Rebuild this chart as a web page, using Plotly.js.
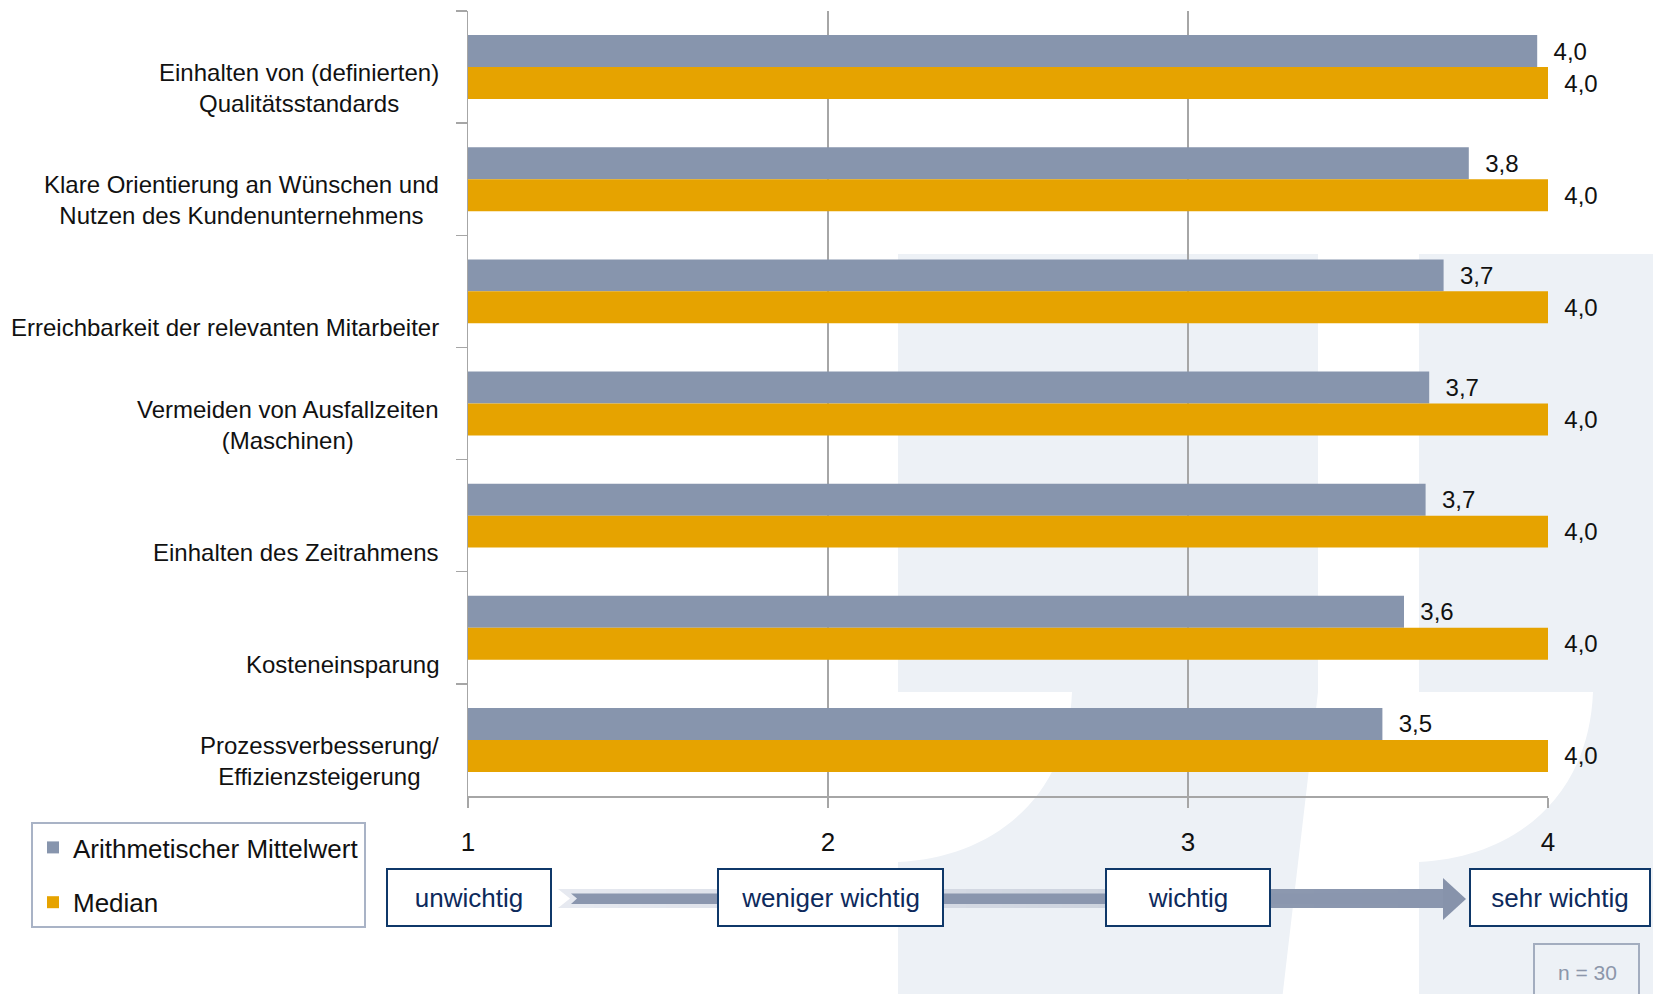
<!DOCTYPE html>
<html>
<head>
<meta charset="utf-8">
<script src="https://cdn.plot.ly/plotly-3.0.1.min.js"></script>
<style>
  html, body { margin: 0; padding: 0; background: #ffffff; }
  #chart { width: 1653px; height: 994px; }
</style>
</head>
<body>
<div id="chart"></div>
<script>
// ---- data ----
const categories = [
  'Einhalten von (definierten) Qualitätsstandards',
  'Klare Orientierung an Wünschen und Nutzen des Kundenunternehmens',
  'Erreichbarkeit der relevanten Mitarbeiter',
  'Vermeiden von Ausfallzeiten (Maschinen)',
  'Einhalten des Zeitrahmens',
  'Kosteneinsparung',
  'Prozessverbesserung/ Effizienzsteigerung'
];
const categoryLabels = [
  'Einhalten von (definierten)<br>Qualitätsstandards',
  'Klare Orientierung an Wünschen und<br>Nutzen des Kundenunternehmens',
  '\u00a0<br>Erreichbarkeit der relevanten Mitarbeiter',
  'Vermeiden von Ausfallzeiten<br>(Maschinen)',
  '\u00a0<br>Einhalten des Zeitrahmens',
  '\u00a0<br>Kosteneinsparung',
  'Prozessverbesserung/<br>Effizienzsteigerung'
];
const meanValues   = [3.97, 3.78, 3.71, 3.67, 3.66, 3.60, 3.54];
const medianValues = [4.0, 4.0, 4.0, 4.0, 4.0, 4.0, 4.0];
const seriesNames  = ['Arithmetischer Mittelwert', 'Median'];
const xTickValues  = [1, 2, 3, 4];
const xTickLabels  = ['1', '2', '3', '4'];
const scaleLabels  = ['unwichtig', 'weniger wichtig', 'wichtig', 'sehr wichtig'];
const sampleNote   = 'n = 30';

// ---- style ----
const FONT = "'Liberation Sans', Arial, sans-serif";
const GRAY = '#8795AD';
const ORANGE = '#E6A300';
const AXIS = '#A6A6A6';
const NAVY = '#0F3869';
const WM = '#EDF1F6';
const AXIS_MIN = 1;

const W = 1653, H = 994, L = 468, R = 1548, T = 11, B = 796;
const px = x => (x - L) / (R - L);
const py = y => (B - y) / (B - T);
const path = pts => pts.map((p, i) => (i ? 'L' : 'M') + px(p[0]).toFixed(5) + ',' + py(p[1]).toFixed(5)).join(' ') + ' Z';
const fmt = v => '\u00a0\u00a0' + v.toFixed(1).replace('.', ',');

function hex(c) { return [1,3,5].map(i => parseInt(c.substr(i,2),16)); }
function mix(a, b, t) {
  const A = hex(a), Bc = hex(b);
  return 'rgb(' + A.map((v,i) => Math.round(v + (Bc[i]-v)*t)).join(',') + ')';
}

const shapes = [];
// background watermark (two light hook shapes)
function hookPath(x0, x1, xb, cx) {
  return 'M' + px(x0) + ',' + py(254) +
    ' L' + px(x1) + ',' + py(254) +
    ' L' + px(x1) + ',' + py(692) +
    ' L' + px(xb) + ',' + py(1000) +
    ' L' + px(x0) + ',' + py(1000) +
    ' L' + px(x0) + ',' + py(862) +
    ' C' + px(x0 + 92) + ',' + py(858) + ' ' + px(cx - 4) + ',' + py(800) + ' ' + px(cx) + ',' + py(692) +
    ' L' + px(x0) + ',' + py(692) + ' Z';
}
shapes.push({type:'path', xref:'paper', yref:'paper', layer:'below', path: hookPath(898, 1318, 1282, 1072), fillcolor: WM, line:{width:0}});
shapes.push({type:'path', xref:'paper', yref:'paper', layer:'below', path: hookPath(1419, 1660, 1660, 1593), fillcolor: WM, line:{width:0}});

// scale arrow
const ax0 = 558, ax1 = 1444, yTop = 889, yBot = 908, yMid = 898.5;
const stops = [[558, '#E6E9F0'], [1105, '#CDD3DE'], [1271, '#8C98AF'], [1444, '#8A96AE']];
function colorAt(x) {
  for (let i = 0; i < stops.length - 1; i++) {
    if (x <= stops[i+1][0]) {
      const t = (x - stops[i][0]) / (stops[i+1][0] - stops[i][0]);
      return mix(stops[i][1], stops[i+1][1], Math.max(0, Math.min(1, t)));
    }
  }
  return stops[stops.length-1][1];
}
const step = 12;
for (let x = ax0; x < ax1; x += step) {
  const xe = Math.min(ax1, x + step + 0.8);
  let pts;
  if (x === ax0) pts = [[x, yTop], [xe, yTop], [xe, yBot], [x, yBot], [x + 12, yMid]];
  else pts = [[x, yTop], [xe, yTop], [xe, yBot], [x, yBot]];
  shapes.push({type:'path', xref:'paper', yref:'paper', layer:'above', path: path(pts), fillcolor: colorAt(x + step/2), line:{width:0}});
}
shapes.push({type:'path', xref:'paper', yref:'paper', layer:'above',
  path: path([[571, 893.5], [ax1, 893.5], [ax1, 904], [571, 904], [577, yMid]]), fillcolor: '#8A96AE', line:{width:0}});
shapes.push({type:'path', xref:'paper', yref:'paper', layer:'above',
  path: path([[1443, 878], [1466, 899], [1443, 920]]), fillcolor: '#8793AB', line:{width:0}});
// n = 30 box
shapes.push({type:'rect', xref:'paper', yref:'paper', layer:'above',
  x0: px(1534), x1: px(1639), y0: py(944), y1: py(1010), line:{color:'#A3ADBF', width:2}, fillcolor:'rgba(0,0,0,0)'});

const annotations = [];
categoryLabels.forEach((lab, i) => {
  annotations.push({xref:'paper', x:0, xanchor:'right', xshift:-27, yref:'y', y:i, yanchor:'middle', yshift:-21,
    text: lab, align:'center', showarrow:false, font:{family:FONT, size:24, color:'#111111'}});
});
const boxWidths = [166, 227, 166, 182];
const boxShift = [1, 2, 0, 12];
scaleLabels.forEach((lab, i) => {
  annotations.push({xref:'x', x: xTickValues[i], xanchor:'center', xshift: boxShift[i], yref:'paper', y: py(897.5), yanchor:'middle',
    text: lab, showarrow:false, width: boxWidths[i] - 4, height: 55, borderpad: 0, borderwidth: 2,
    bordercolor: NAVY, bgcolor:'#ffffff', font:{family:FONT, size:26, color:'#0D2A5C'}});
});
annotations.push({xref:'paper', x: px(1587), xanchor:'center', yref:'paper', y: py(972), yanchor:'middle',
  text: sampleNote, showarrow:false, font:{family:FONT, size:21, color:'#8C96AA'}});

const traces = [
  {type:'bar', orientation:'h', name: seriesNames[0], y: categories, x: meanValues.map(v => v - AXIS_MIN), base: AXIS_MIN,
   marker:{color: GRAY}, text: meanValues.map(fmt), textposition:'outside', cliponaxis:false, constraintext:'none',
   textfont:{family:FONT, size:24, color:'#111111'}, legendgroup:'a', hoverinfo:'skip'},
  {type:'bar', orientation:'h', name: seriesNames[1], y: categories, x: medianValues.map(v => v - AXIS_MIN), base: AXIS_MIN,
   marker:{color: ORANGE}, text: medianValues.map(fmt), textposition:'outside', cliponaxis:false, constraintext:'none',
   textfont:{family:FONT, size:24, color:'#111111'}, legendgroup:'b', hoverinfo:'skip'}
];

const layout = {
  width: W, height: H,
  margin: {l: L, r: W - R, t: T, b: H - B, pad: 0},
  paper_bgcolor: '#ffffff', plot_bgcolor: 'rgba(0,0,0,0)',
  font: {family: FONT, color: '#111111'},
  barmode: 'group', bargap: 0.43, bargroupgap: 0,
  showlegend: true,
  legend: {x: px(31), y: py(822), xanchor:'left', yanchor:'top', bgcolor:'#ffffff', bordercolor:'#A9B3C6', borderwidth:2,
    font:{family:FONT, size:26, color:'#111111'}, traceorder:'grouped', tracegroupgap: 18, itemwidth: 30},
  xaxis: {range: [1, 4], tickvals: xTickValues, ticktext: xTickLabels, ticks:'outside', ticklen:10, tickcolor: AXIS, tickwidth:1.5,
    showgrid:true, gridcolor: AXIS, gridwidth:1.2, showline:true, linecolor: AXIS, linewidth:1.5, zeroline:false,
    tickfont:{family:FONT, size:26, color:'#111111'}, ticklabelstandoff: 12, fixedrange:true},
  yaxis: {type:'category', categoryorder:'array', categoryarray: categories, range:[6.5, -0.5], tickson:'boundaries',
    ticks:'outside', ticklen:11, tickcolor: AXIS, tickwidth:1.5, showticklabels:false, showgrid:false, showline:true,
    linecolor: AXIS, linewidth:1.5, zeroline:false, fixedrange:true},
  shapes: shapes,
  annotations: annotations
};

Plotly.newPlot('chart', traces, layout, {displayModeBar:false, staticPlot:true});
</script>
</body>
</html>
